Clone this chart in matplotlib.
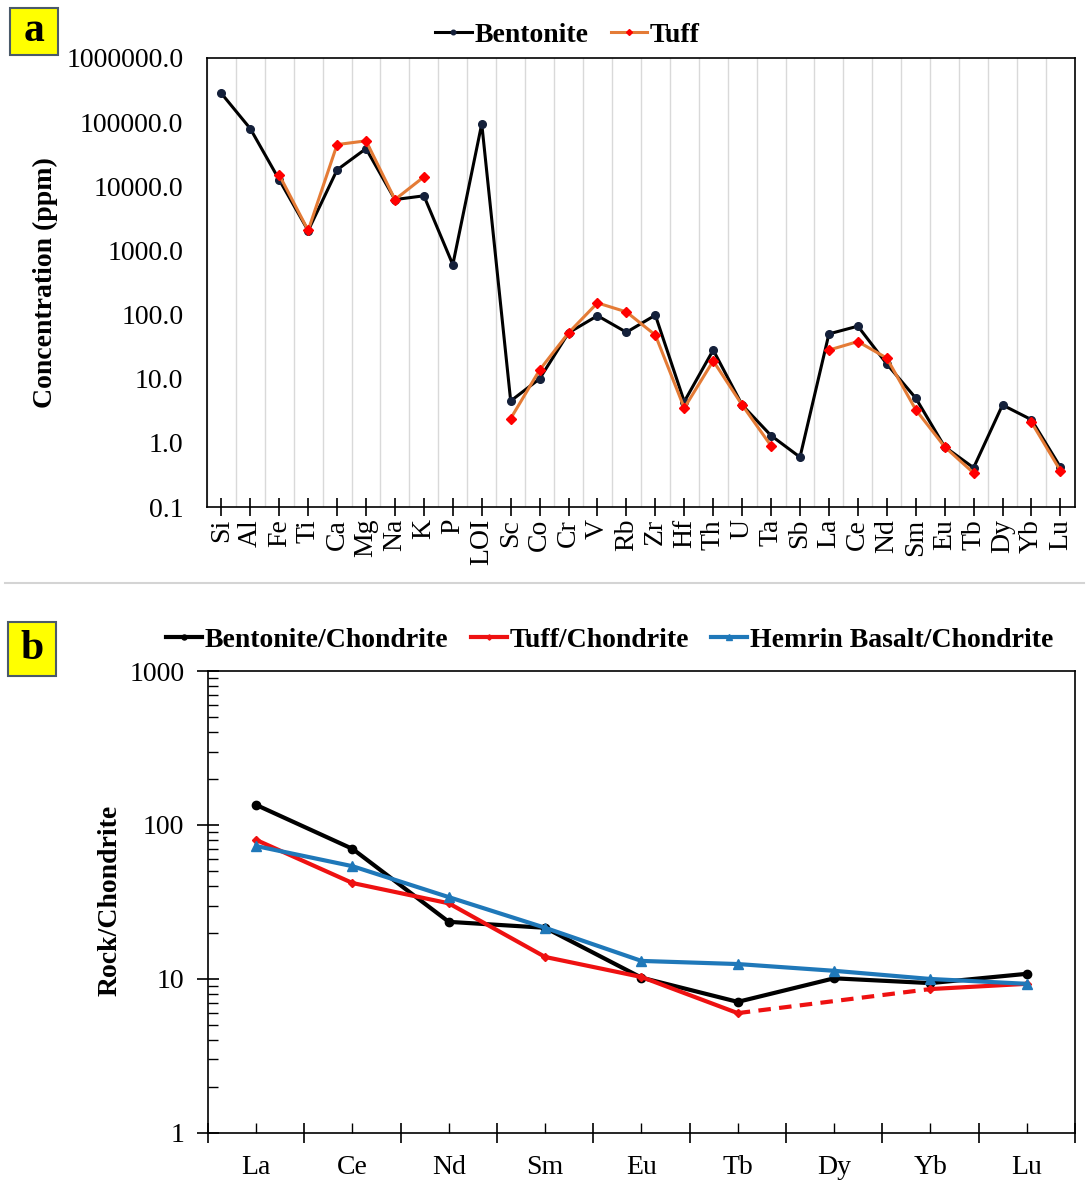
import numpy as np
import matplotlib
matplotlib.use('Agg')
import matplotlib.pyplot as plt
from matplotlib.patches import Rectangle
from matplotlib.lines import Line2D
from matplotlib.ticker import FixedLocator, NullFormatter, LogLocator

plt.rcParams['font.family'] = ['Liberation Serif', 'DejaVu Serif']

# ---- panel a data (ppm) ----
elements = ['Si', 'Al', 'Fe', 'Ti', 'Ca', 'Mg', 'Na', 'K', 'P', 'LOI',
            'Sc', 'Co', 'Cr', 'V', 'Rb', 'Zr', 'Hf', 'Th', 'U', 'Ta',
            'Sb', 'La', 'Ce', 'Nd', 'Sm', 'Eu', 'Tb', 'Dy', 'Yb', 'Lu']
bentonite = [280000, 79000, 12600, 2030, 18000, 38600, 6200, 7100, 600, 94000,
             4.5, 10, 52, 96, 53, 98, 4.4, 28, 3.9, 1.3,
             0.6, 50, 66, 17, 5.0, 0.87, 0.41, 3.9, 2.3, 0.42]
tuff = [np.nan, np.nan, 15000, 2050, 44600, 51000, 6200, 14000, np.nan, np.nan,
        2.4, 13.7, 52, 152, 110, 48, 3.5, 19, 3.9, 0.9,
        np.nan, 28, 38, 21, 3.3, 0.87, 0.34, np.nan, 2.1, 0.37]

# ---- panel b data (chondrite normalised) ----
ree = ['La', 'Ce', 'Nd', 'Sm', 'Eu', 'Tb', 'Dy', 'Yb', 'Lu']
bent_ch = [135, 70, 23.5, 21.5, 10.2, 7.1, 10.1, 9.4, 10.8]
tuff_ch = [80, 42, 31, 13.9, 10.3, 6.0, np.nan, 8.6, 9.3]
hemrin_ch = [73, 54, 34, 21.5, 13.1, 12.5, 11.3, 10.0, 9.3]

fig = plt.figure(figsize=(10.89, 11.82), dpi=100)

# ================= panel a =================
ax1 = fig.add_axes([0.190, 0.571, 0.797, 0.380])
x1 = np.arange(len(elements))
ax1.plot(x1, bentonite, color='black', lw=2.2, marker='o', ms=5.5,
         mfc='#14203a', mec='#14203a', label='Bentonite', zorder=3)
ax1.plot(x1, tuff, color='#e47b36', lw=2.2, marker='D', ms=5,
         mfc='#ff0000', mec='#ff0000', label='Tuff', zorder=4)
ax1.set_yscale('log')
ax1.set_ylim(0.1, 1e6)
ax1.set_xlim(-0.5, len(elements) - 0.5)
ax1.set_yticks([0.1, 1, 10, 100, 1000, 10000, 100000, 1000000])
ax1.set_yticklabels(['%.1f' % v for v in [0.1, 1, 10, 100, 1000, 10000, 100000, 1000000]])
ax1.yaxis.set_minor_locator(plt.NullLocator())
ax1.tick_params(axis='y', length=0, labelsize=20, pad=17)
ax1.set_xticks(x1)
ax1.set_xticklabels(elements, rotation=90, fontsize=20)
ax1.tick_params(axis='x', direction='inout', length=13, width=1.2, pad=2)
ax1.xaxis.set_minor_locator(FixedLocator(np.arange(-0.5, len(elements), 1.0)))
ax1.tick_params(axis='x', which='minor', length=0)
ax1.grid(axis='x', which='minor', color='#d9d9d9', lw=1)
for s in ax1.spines.values():
    s.set_linewidth(1.2)
fig.text(45 / 1089, 1 - 283 / 1182, 'Concentration (ppm)', rotation=90,
         ha='center', va='center', fontsize=20, fontweight='bold')
fig.legend(handles=ax1.get_lines(), loc='center', bbox_to_anchor=(0.521, 0.970),
           ncol=2, frameon=False, prop={'size': 20, 'weight': 'bold'},
           handlelength=1.3, handletextpad=0.1, columnspacing=0.8, markerscale=0.6)

# ================= panel b =================
ax2 = fig.add_axes([0.191, 0.0415, 0.796, 0.3908])
x2 = np.arange(len(ree))
ax2.plot(x2, bent_ch, color='black', lw=3, marker='o', ms=6,
         label='Bentonite/Chondrite', zorder=3)
ax2.plot(x2, tuff_ch, color='#ee1111', lw=3, marker='D', ms=4.5,
         label='Tuff/Chondrite', zorder=4)
tuff_valid = [i for i, v in enumerate(tuff_ch) if not np.isnan(v)]
for a, b in zip(tuff_valid[:-1], tuff_valid[1:]):
    if b - a > 1:
        ax2.plot([x2[a], x2[b]], [tuff_ch[a], tuff_ch[b]], color='#ee1111',
                 lw=3, ls=(0, (3, 2)), zorder=4)
ax2.plot(x2, hemrin_ch, color='#1f78b9', lw=3, marker='^', ms=7,
         label='Hemrin Basalt/Chondrite', zorder=5)
ax2.set_yscale('log')
ax2.set_ylim(1, 1000)
ax2.set_xlim(-0.5, len(ree) - 0.5)
ax2.set_yticks([1, 10, 100, 1000])
ax2.set_yticklabels(['1', '10', '100', '1000'])
ax2.yaxis.set_minor_locator(LogLocator(base=10, subs=np.arange(2, 10)))
ax2.yaxis.set_minor_formatter(NullFormatter())
ax2.tick_params(axis='y', which='major', direction='inout', length=16, width=1.2,
                labelsize=20, pad=9)
ax2.tick_params(axis='y', which='minor', direction='in', length=7, width=1)
ax2.set_xticks(np.arange(-0.5, len(ree), 1.0))
ax2.xaxis.set_major_formatter(NullFormatter())
ax2.tick_params(axis='x', which='major', direction='inout', length=14, width=1.2)
ax2.xaxis.set_minor_locator(FixedLocator(x2))
ax2.set_xticklabels(ree, minor=True, fontsize=20)
ax2.tick_params(axis='x', which='minor', direction='in', length=7, width=1, pad=16)
for s in ax2.spines.values():
    s.set_linewidth(1.2)
fig.text(110 / 1089, 1 - 900 / 1182, 'Rock/Chondrite', rotation=90,
         ha='center', va='center', fontsize=20, fontweight='bold')
fig.legend(handles=ax2.get_lines()[:2] + [ax2.get_lines()[-1]], loc='center',
           bbox_to_anchor=(0.56, 0.4585), ncol=3, frameon=False,
           prop={'size': 20, 'weight': 'bold'}, handlelength=1.3,
           handletextpad=0.1, columnspacing=0.8, markerscale=0.6)

# panel labels and separator
for (x0, y0, w, h, txt, cx, cy) in [(0.0092, 0.9535, 0.044, 0.0398, 'a', 0.0312, 0.9735),
                                     (0.0073, 0.428, 0.044, 0.0457, 'b', 0.0294, 0.451)]:
    fig.add_artist(Rectangle((x0, y0), w, h, transform=fig.transFigure,
                             facecolor='#ffff00', edgecolor='#4a5a6a', lw=1.5))
    fig.text(cx, cy, txt, ha='center', va='center', fontsize=30, fontweight='bold')
fig.add_artist(Line2D([0.005, 0.995], [0.5068, 0.5068], transform=fig.transFigure,
                      color='#d4d4d4', lw=1.5))

fig.savefig('out.png', dpi=100)
